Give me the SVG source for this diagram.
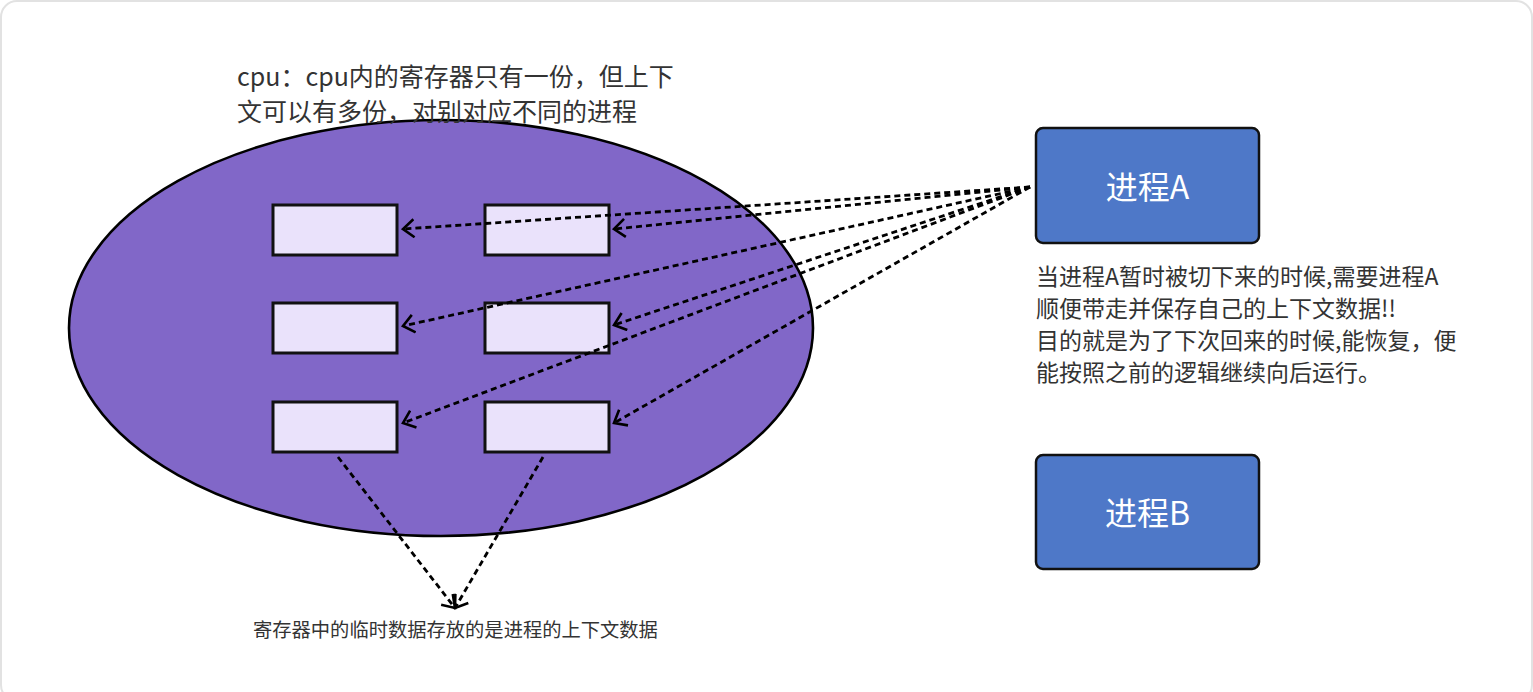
<svg xmlns="http://www.w3.org/2000/svg" width="1533" height="692" viewBox="0 0 1533 692">
<style>
.t{font-family:"Noto Sans CJK SC","Noto Sans",sans-serif;fill:#333}
.reg{fill:#EAE2FB;stroke:#111;stroke-width:3}
.proc{fill:#4E78C8;stroke:#111;stroke-width:2.5}
.pl{font-family:"Noto Sans CJK SC","Noto Sans",sans-serif;fill:#fff;font-size:32px;text-anchor:middle}
.c{fill:none;stroke:#000;stroke-width:2.8;stroke-dasharray:6 4}
</style>
<defs>
<marker id="ar" markerUnits="userSpaceOnUse" markerWidth="16" markerHeight="24" refX="12" refY="10" orient="auto">
<path d="M1,1 L12,10 L1,19" fill="none" stroke="#000" stroke-width="2.6"/>
</marker>
</defs>
<rect x="1" y="1" width="1531" height="700" rx="16" fill="#fff" stroke="#e2e2e2" stroke-width="2"/>
<g id="cpu">
<ellipse cx="441" cy="328" rx="372" ry="208" fill="#8167C8" stroke="#000" stroke-width="2.6"/>
<text class="t" font-size="25" x="237" y="85.5">cpu：cpu内的寄存器只有一份，但上下</text>
<text class="t" font-size="25" x="237" y="120.5">文可以有多份，对别对应不同的进程</text>
</g>
<g id="reg-1-1"><rect class="reg" x="273" y="205" width="124" height="50"/></g>
<g id="reg-1-2"><rect class="reg" x="485" y="205" width="124" height="50"/></g>
<g id="reg-2-1"><rect class="reg" x="273" y="303" width="124" height="50"/></g>
<g id="reg-2-2"><rect class="reg" x="485" y="303" width="124" height="50"/></g>
<g id="reg-3-1"><rect class="reg" x="273" y="402" width="124" height="50"/></g>
<g id="reg-3-2"><rect class="reg" x="485" y="402" width="124" height="50"/></g>
<g id="procA">
<rect class="proc" x="1036" y="128" width="223" height="115" rx="7"/>
<text class="pl" x="1147.5" y="199">进程A</text>
</g>
<g id="procB">
<rect class="proc" x="1036" y="455" width="223" height="114" rx="7"/>
<text class="pl" x="1147.5" y="525">进程B</text>
</g>
<g id="noteA">
<text class="t" font-size="23" x="1036" y="284.5">当进程A暂时被切下来的时候,需要进程A</text>
<text class="t" font-size="23" x="1036" y="316.8">顺便带走并保存自己的上下文数据!!</text>
<text class="t" font-size="23" x="1036" y="349.1">目的就是为了下次回来的时候,能恢复，便</text>
<text class="t" font-size="23" x="1036" y="381.4">能按照之前的逻辑继续向后运行。</text>
</g>
<g id="noteBottom">
<text class="t" font-size="19.3" x="253" y="637">寄存器中的临时数据存放的是进程的上下文数据</text>
</g>
<g id="connectors">
<line class="c" x1="1030" y1="187" x2="403" y2="229" marker-end="url(#ar)"/>
<line class="c" x1="1030" y1="187" x2="614" y2="229" marker-end="url(#ar)"/>
<line class="c" x1="1030" y1="187" x2="403" y2="326" marker-end="url(#ar)"/>
<line class="c" x1="1030" y1="187" x2="614" y2="325" marker-end="url(#ar)"/>
<line class="c" x1="1030" y1="187" x2="403" y2="423" marker-end="url(#ar)"/>
<line class="c" x1="1030" y1="187" x2="614" y2="423" marker-end="url(#ar)"/>
<line class="c" x1="338" y1="457" x2="455" y2="608" marker-end="url(#ar)"/>
<line class="c" x1="543" y1="457" x2="455" y2="608" marker-end="url(#ar)"/>
</g>
</svg>
